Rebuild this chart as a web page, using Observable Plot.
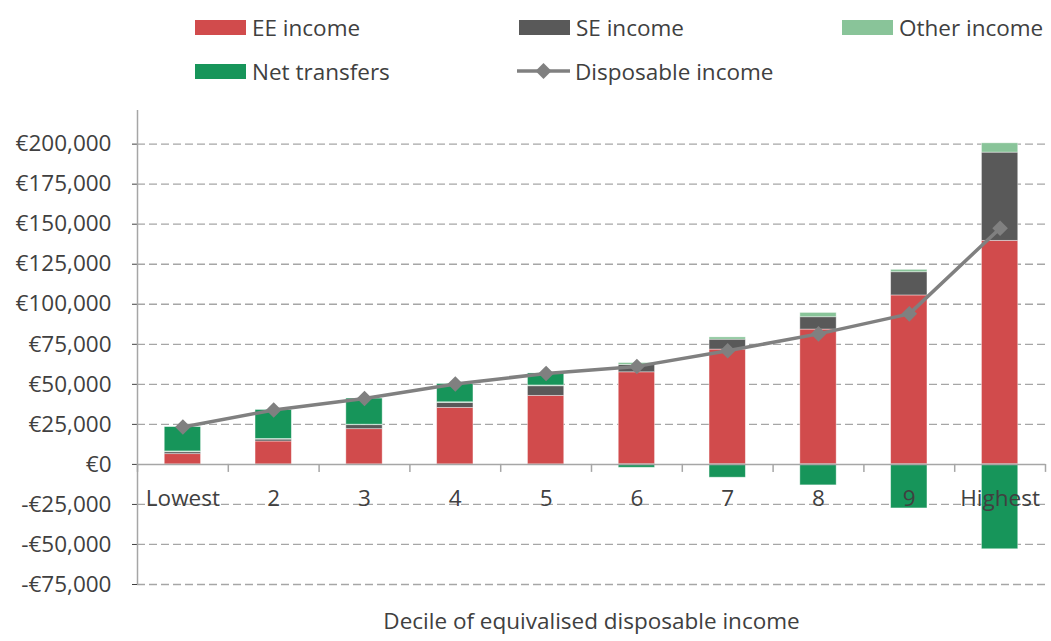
<!DOCTYPE html>
<html><head><meta charset="utf-8">
<script src="https://cdn.jsdelivr.net/npm/d3@7"></script>
<script src="https://cdn.jsdelivr.net/npm/@observablehq/plot@0.6"></script>
<style>
body{margin:0;background:#fff;font-family:"Open Sans",sans-serif;}
#wrap{position:relative;width:1051px;height:641px;overflow:hidden;}
.leg{position:absolute;display:flex;align-items:center;height:30px;font-size:22.5px;color:#404040;white-space:nowrap;}
.sw{width:51px;height:15px;margin-right:6px;}
#chart{position:absolute;left:0;top:0;}
</style></head><body><div id="wrap"><div id="chart"></div></div>
<script>
const deciles = ["Lowest","2","3","4","5","6","7","8","9","Highest"];
const eeIncome = [6400, 14300, 22000, 35300, 42800, 57500, 71700, 84200, 105500, 139600];
const seIncome = [1200, 1200, 2500, 3100, 6000, 4600, 6200, 7700, 14500, 55100];
const otherIncome = [500, 400, 300, 400, 500, 1200, 1400, 2700, 1500, 5800];
const netTransfers = [15200, 18100, 16300, 11400, 7500, -2100, -8300, -13100, -27500, -53000];
const disposableIncome = [23300, 34000, 41100, 50200, 56800, 61200, 71000, 81500, 94000, 147500];
const yTicks = [-75000, -50000, -25000, 0, 25000, 50000, 75000, 100000, 125000, 150000, 175000, 200000];
const seriesNames = ["EE income","SE income","Other income","Net transfers"];
const seriesColors = ["#d14b4c","#595959","#89c499","#17955a"];
const lineName = "Disposable income";

const seriesArrays = [eeIncome, seIncome, otherIncome, netTransfers];
const rows = [];
deciles.forEach((d, i) => seriesArrays.forEach((arr, k) => rows.push({i, decile: d, series: seriesNames[k], value: arr[i]})));
const linePts = deciles.map((d, i) => ({i, decile: d, value: disposableIncome[i]}));
const fmt = v => (v < 0 ? "-" : "") + "€" + d3.format(",")(Math.abs(v));

const chart = Plot.plot({
  width: 1051, height: 641,
  marginTop: 110, marginBottom: 57, marginLeft: 137, marginRight: 6,
  x: {domain: [0, deciles.length], axis: null},
  y: {domain: [-75000, 221000], ticks: yTicks, tickFormat: fmt, tickSize: 5, tickPadding: 21, label: null, grid: false},
  color: {domain: seriesNames, range: seriesColors},
  style: {fontFamily: "Open Sans", fontSize: "22.5px", color: "#404040", background: "white", overflow: "visible"},
  marks: [
    Plot.ruleY(yTicks.filter(v => v !== 0), {stroke: "#a6a6a6", strokeDasharray: "8,4", strokeWidth: 1.3}),
    Plot.rectY(rows, {x1: d => d.i + 0.3, x2: d => d.i + 0.7, y: "value", fill: "series", stroke: "white", strokeOpacity: 0.5, strokeWidth: 0.8}),
    Plot.ruleY([0], {stroke: "#a6a6a6", strokeWidth: 1.5}),
    Plot.ruleX([0], {stroke: "#a6a6a6", strokeWidth: 1.5}),
    Plot.ruleX(d3.range(deciles.length + 1), {y1: 0, y2: -5000, stroke: "#a6a6a6", strokeWidth: 1.5}),
    Plot.text(deciles, {x: (d, i) => i + 0.5, y: 0, dy: 34, fill: "#404040"}),
    Plot.text(["Decile of equivalised disposable income"], {x: deciles.length / 2, frameAnchor: "bottom", dy: 44, fill: "#404040"}),
    Plot.line(linePts, {x: d => d.i + 0.5, y: "value", stroke: "#808080", strokeWidth: 3.5}),
    Plot.dot(linePts, {x: d => d.i + 0.5, y: "value", symbol: "diamond2", r: 7, fill: "#808080"})
  ]
});
document.getElementById("chart").appendChild(chart);

// legend
const wrap = document.getElementById("wrap");
const legPos = [[195, 12], [519, 12], [842, 12], [195, 56]];
seriesNames.forEach((name, k) => {
  const el = document.createElement("div");
  el.className = "leg";
  el.style.left = legPos[k][0] + "px"; el.style.top = legPos[k][1] + "px";
  el.innerHTML = `<div class="sw" style="background:${seriesColors[k]}"></div><span>${name}</span>`;
  wrap.appendChild(el);
});
const ll = document.createElement("div");
ll.className = "leg"; ll.style.left = "517px"; ll.style.top = "56px";
ll.innerHTML = `<svg width="53" height="20" style="margin-right:5px"><line x1="0" y1="10" x2="53" y2="10" stroke="#808080" stroke-width="3.5"/><path d="M26.5,2 L34.5,10 L26.5,18 L18.5,10 Z" fill="#808080"/></svg><span>${lineName}</span>`;
wrap.appendChild(ll);
</script></body></html>
